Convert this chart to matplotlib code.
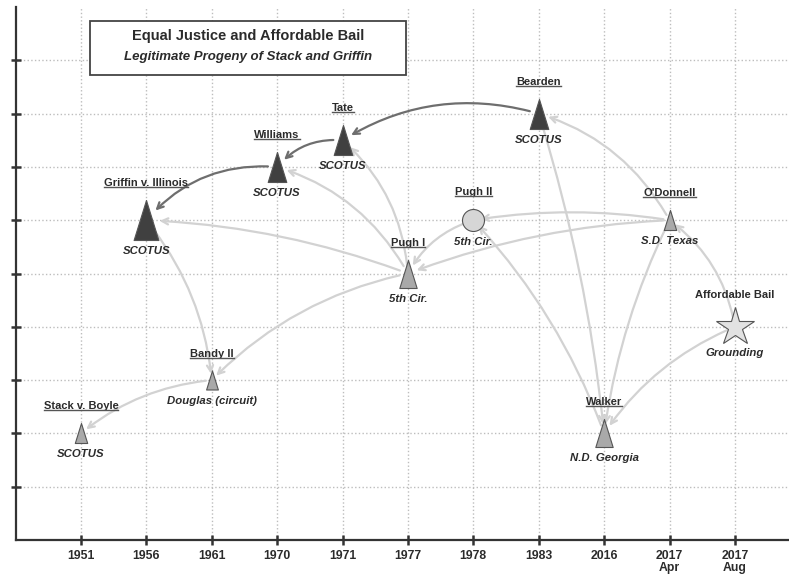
import matplotlib.pyplot as plt
from matplotlib.lines import Line2D
from matplotlib.path import Path
from matplotlib.patches import Rectangle
from matplotlib.transforms import IdentityTransform

plt.rcParams["font.family"] = ["Liberation Sans", "DejaVu Sans"]

# data
years = ["1951", "1956", "1961", "1970", "1971", "1977", "1978", "1983", "2016", "2017\nApr", "2017\nAug"]
cases = ["Stack v. Boyle", "Griffin v. Illinois", "Bandy II", "Williams", "Tate", "Pugh I",
         "Pugh II", "Bearden", "Walker", "O'Donnell", "Affordable Bail"]
courts = ["SCOTUS", "SCOTUS", "Douglas (circuit)", "SCOTUS", "SCOTUS", "5th Cir.",
          "5th Cir.", "SCOTUS", "N.D. Georgia", "S.D. Texas", "Grounding"]
levels = [2, 6, 3, 7, 7.5, 5, 6, 8, 2, 6, 4]

# citations (citing case -> cited case)
strong_cites = [("Bearden", "Tate"), ("Tate", "Williams"), ("Williams", "Griffin v. Illinois")]
light_cites = [
    ("Pugh I", "Griffin v. Illinois"), ("Pugh I", "Williams"), ("Pugh I", "Tate"),
    ("Pugh I", "Bandy II"), ("Griffin v. Illinois", "Bandy II"), ("Bandy II", "Stack v. Boyle"),
    ("Pugh II", "Pugh I"), ("O'Donnell", "Pugh II"), ("O'Donnell", "Pugh I"),
    ("O'Donnell", "Bearden"), ("Affordable Bail", "O'Donnell"), ("Bearden", "Walker"),
    ("Walker", "Pugh II"), ("O'Donnell", "Walker"), ("Affordable Bail", "Walker"),
]

# styles
tri = Path([(0, 1), (-0.62, -1), (0.62, -1), (0, 1)], closed=True)
shapes = [tri, tri, tri, tri, tri, tri, "o", tri, tri, tri, "*"]
heights = [20, 40, 19, 30, 30, 28, 22, 30, 28, 20, 30]  # pixels
fills = ["#a9a9a9", "#404040", "#a9a9a9", "#404040", "#404040", "#a9a9a9",
         "#d6d6d6", "#404040", "#a9a9a9", "#a9a9a9", "#e2e2e2"]
strong_rads = [0.22, 0.25, 0.25]
light_rads = [0.08, 0.2, 0.2, 0.15, -0.15, 0.15, 0.2, 0.08, 0.08, 0.2, 0.2, -0.05, 0.1, 0.08, 0.15]

txt = "#2b2b2b"
fig = plt.figure(figsize=(7.89, 5.75), dpi=100)
ax = fig.add_axes([15.5 / 789, 35 / 575, 773.5 / 789, 533 / 575])
ax.set_xlim(0, 773.5 / 65.4)
ax.set_ylim(0, 10)

xs = list(range(1, len(years) + 1))
pos = {c: (x, y) for c, x, y in zip(cases, xs, levels)}
size = {c: h for c, h in zip(cases, heights)}

# arrows
def cite(a, b, rad, color, lw):
    ax.annotate("", xy=pos[b], xytext=pos[a],
                arrowprops=dict(arrowstyle="->", color=color, lw=lw, mutation_scale=11,
                                connectionstyle=f"arc3,rad={rad}",
                                shrinkA=size[a] * 0.22, shrinkB=size[b] * 0.24),
                zorder=2)

for (a, b), r in zip(light_cites, light_rads):
    cite(a, b, r, "#d2d2d2", 1.6)
for (a, b), r in zip(strong_cites, strong_rads):
    cite(a, b, r, "#6e6e6e", 1.6)

# markers and labels
underline = []
for c, x, y, court, m, h, fc in zip(cases, xs, levels, courts, shapes, heights, fills):
    ms = h * 0.72
    if m == "*":
        ms = h * 0.95
    ax.plot(x, y, marker=m, markersize=ms, markerfacecolor=fc, markeredgecolor="#555555",
            markeredgewidth=0.8, linestyle="none", zorder=4)
    t = ax.annotate(c, (x, y), xytext=(0, h / 2 + 17), textcoords="offset pixels",
                    ha="center", va="center", fontsize=8, fontweight="bold", color=txt, zorder=5)
    if c != "Affordable Bail":
        underline.append(t)
    ax.annotate(court, (x, y), xytext=(0, -(h / 2 + 11)), textcoords="offset pixels",
                ha="center", va="center", fontsize=8.2, fontweight="bold", style="italic",
                color=txt, zorder=5)

# axes styling
for s in ["top", "right"]:
    ax.spines[s].set_visible(False)
for s in ["left", "bottom"]:
    ax.spines[s].set_linewidth(1.6)
    ax.spines[s].set_color("#333333")
ax.set_xticks(xs)
ax.set_xticklabels(years, fontsize=8.8, fontweight="bold", color=txt, linespacing=1.0)
ax.set_yticks(range(1, 10))
ax.set_yticklabels([])
ax.tick_params(direction="inout", length=7, width=1.8, color="#333333")
ax.grid(True, linestyle=":", color="#bdbdbd", linewidth=1.0)
ax.set_axisbelow(True)

# title box
fig.add_artist(Rectangle((90 / 789, 1 - 75 / 575), 316 / 789, 54 / 575, transform=fig.transFigure,
                         facecolor="white", edgecolor="#444444", lw=1.3, zorder=6))
fig.text(248 / 789, 1 - 36 / 575, "Equal Justice and Affordable Bail", ha="center", va="center",
         fontsize=10.5, fontweight="bold", color=txt, zorder=7)
fig.text(248 / 789, 1 - 57 / 575, "Legitimate Progeny of Stack and Griffin", ha="center", va="center",
         fontsize=9.5, fontweight="bold", style="italic", color=txt, zorder=7)

# underline case names
fig.canvas.draw()
r = fig.canvas.get_renderer()
for t in underline:
    bb = t.get_window_extent(r)
    fig.add_artist(Line2D([bb.x0, bb.x1], [bb.y0 + 1, bb.y0 + 1], transform=IdentityTransform(),
                          color="#555555", lw=1.0))

fig.savefig("out.png", dpi=100)
